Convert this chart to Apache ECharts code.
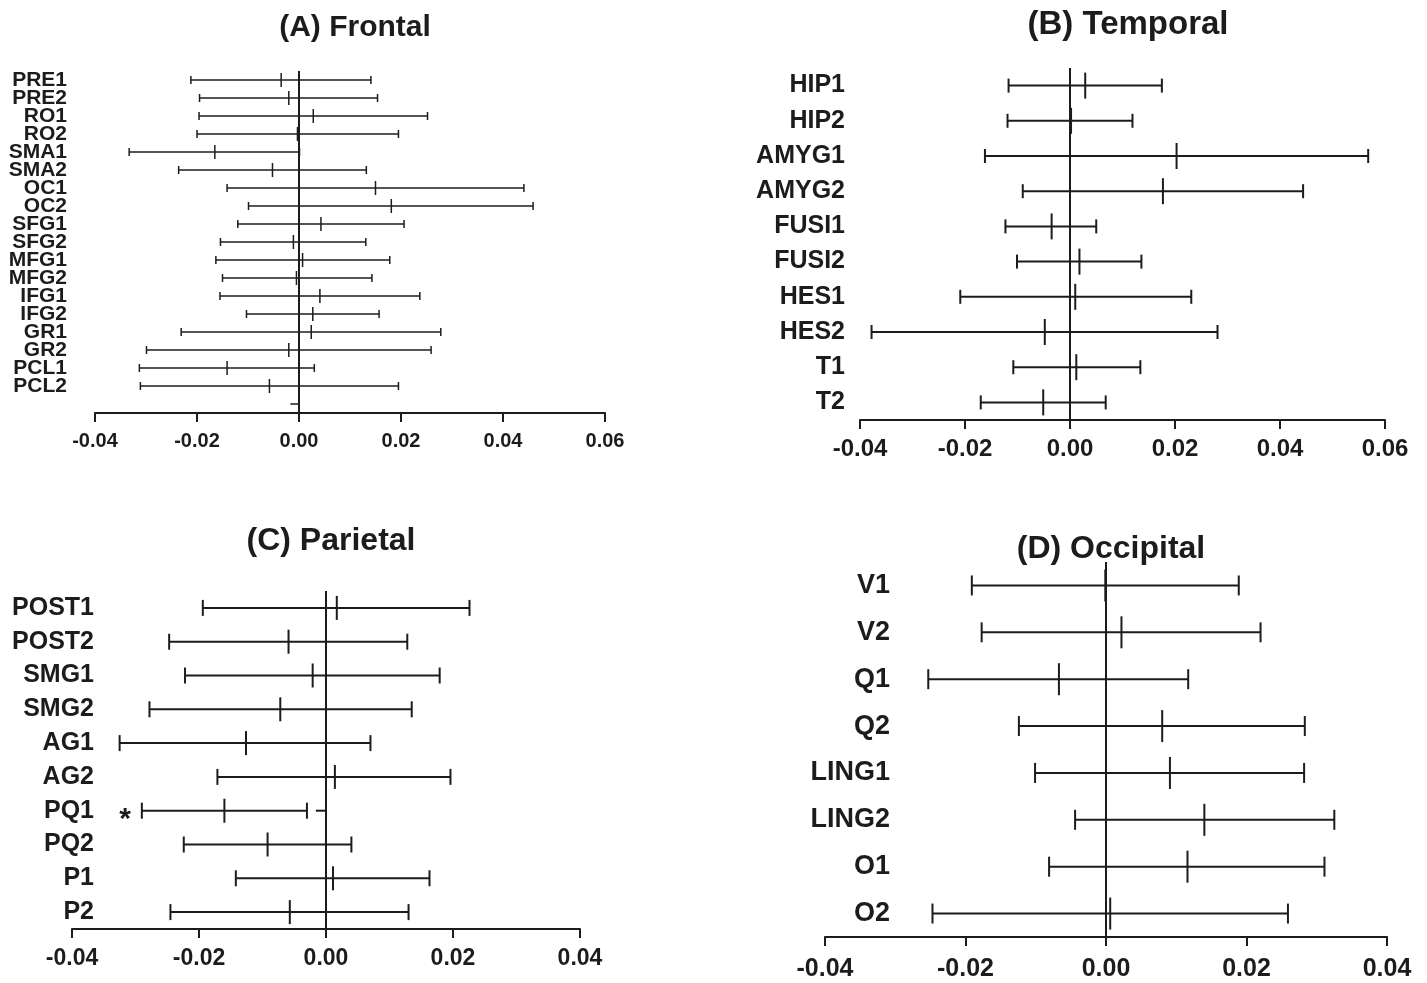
<!DOCTYPE html>
<html>
<head>
<meta charset="utf-8">
<script src="https://cdn.jsdelivr.net/npm/echarts@6/dist/echarts.min.js"></script>
<style>
html,body{margin:0;padding:0;background:#fff;}
#chart{width:1427px;height:983px;}
</style>
</head>
<body>
<div id="chart"></div>
<script>
// ---------- DATA ----------
const A_categories = ['PRE1','PRE2','RO1','RO2','SMA1','SMA2','OC1','OC2','SFG1','SFG2','MFG1','MFG2','IFG1','IFG2','GR1','GR2','PCL1','PCL2',''];
const A_lower = [-0.0212,-0.0195,-0.0196,-0.0200,-0.0333,-0.0236,-0.0141,-0.0099,-0.0120,-0.0154,-0.0163,-0.0150,-0.0155,-0.0103,-0.0231,-0.0299,-0.0313,-0.0311];
const A_mean  = [-0.0035,-0.0020, 0.0028,-0.0003,-0.0165,-0.0052, 0.0150, 0.0181, 0.0043,-0.0011, 0.0007,-0.0005, 0.0041, 0.0027, 0.0024,-0.0020,-0.0141,-0.0058];
const A_upper = [ 0.0141, 0.0154, 0.0252, 0.0195, 0.0001, 0.0132, 0.0441, 0.0459, 0.0206, 0.0131, 0.0178, 0.0143, 0.0237, 0.0157, 0.0278, 0.0259, 0.0030, 0.0195];
const A_fragments = [[-0.0017, 0, 18]];

const B_categories = ['HIP1','HIP2','AMYG1','AMYG2','FUSI1','FUSI2','HES1','HES2','T1','T2'];
const B_lower = [-0.0117,-0.0119,-0.0162,-0.0090,-0.0123,-0.0101,-0.0209,-0.0378,-0.0108,-0.0170];
const B_mean  = [ 0.0029, 0.0002, 0.0203, 0.0177,-0.0035, 0.0018, 0.0010,-0.0048, 0.0012,-0.0051];
const B_upper = [ 0.0175, 0.0119, 0.0568, 0.0444, 0.0050, 0.0136, 0.0231, 0.0281, 0.0134, 0.0068];

const C_categories = ['POST1','POST2','SMG1','SMG2','AG1','AG2','PQ1','PQ2','P1','P2'];
const C_lower = [-0.0194,-0.0247,-0.0222,-0.0278,-0.0325,-0.0171,-0.0290,-0.0224,-0.0142,-0.0245];
const C_mean  = [ 0.0017,-0.0059,-0.0021,-0.0072,-0.0126, 0.0014,-0.0160,-0.0092, 0.0011,-0.0057];
const C_upper = [ 0.0226, 0.0128, 0.0179, 0.0135, 0.0070, 0.0196,-0.0030, 0.0040, 0.0163, 0.0130];
const C_marks = ['','','','','','','*','','',''];
const C_fragments = [[-0.0016, 0, 6]];

const D_categories = ['V1','V2','Q1','Q2','LING1','LING2','O1','O2'];
const D_lower = [-0.0191,-0.0177,-0.0253,-0.0124,-0.0101,-0.0044,-0.0081,-0.0247];
const D_mean  = [-0.0001, 0.0022,-0.0067, 0.0080, 0.0091, 0.0140, 0.0116, 0.0006];
const D_upper = [ 0.0189, 0.0220, 0.0117, 0.0283, 0.0282, 0.0325, 0.0311, 0.0259];

const titles = ['(A) Frontal','(B) Temporal','(C) Parietal','(D) Occipital'];

// ---------- STYLE / LAYOUT ----------
const FONT = "'Liberation Sans', Arial, Helvetica, sans-serif";
const INK = '#1c1c1c';

const panels = [
  {cats:A_categories, lo:A_lower, mn:A_mean, hi:A_upper, frag:A_fragments, marks:null,
   grid:{left:95, top:71, width:510, height:342}, min:-0.04, max:0.06,
   labelSize:21, labelMargin:28, tickSize:20, tickMargin:18, capH:4, meanH:7, lw:1.5,
   title:{x:350, y:25, size:30}},
  {cats:B_categories, lo:B_lower, mn:B_mean, hi:B_upper, frag:[], marks:null,
   grid:{left:860, top:68, width:525, height:352}, min:-0.04, max:0.06,
   labelSize:25, labelMargin:15, tickSize:24, tickMargin:17, capH:7, meanH:13, lw:2,
   title:{x:1123, y:22, size:33}},
  {cats:C_categories, lo:C_lower, mn:C_mean, hi:C_upper, frag:C_fragments, marks:C_marks,
   grid:{left:72, top:591, width:508, height:338}, min:-0.04, max:0.04,
   labelSize:25, labelMargin:-22, tickSize:23, tickMargin:18, capH:8, meanH:12, lw:2,
   title:{x:326, y:538, size:32}},
  {cats:D_categories, lo:D_lower, mn:D_mean, hi:D_upper, frag:[], marks:null,
   grid:{left:825, top:562, width:562, height:375}, min:-0.04, max:0.04,
   labelSize:27, labelMargin:-65, tickSize:25, tickMargin:20, capH:10, meanH:16, lw:2,
   title:{x:1106, y:546, size:32}}
];

function errRender(p) {
  return function (params, api) {
    const lo = api.value(0), mn = api.value(1), hi = api.value(2), row = api.value(3);
    const a = api.coord([lo, row]), m = api.coord([mn, row]), b = api.coord([hi, row]);
    const st = {stroke: INK, lineWidth: p.lw};
    const children = [
      {type:'line', shape:{x1:a[0], y1:a[1], x2:b[0], y2:b[1]}, style:st},
      {type:'line', shape:{x1:a[0], y1:a[1]-p.capH, x2:a[0], y2:a[1]+p.capH}, style:st},
      {type:'line', shape:{x1:b[0], y1:b[1]-p.capH, x2:b[0], y2:b[1]+p.capH}, style:st},
      {type:'line', shape:{x1:m[0], y1:m[1]-p.meanH, x2:m[0], y2:m[1]+p.meanH}, style:st}
    ];
    if (p.marks && p.marks[row]) {
      children.push({type:'text', x:a[0]-11, y:a[1]+9,
        style:{text:p.marks[row], font:'bold 30px ' + FONT, fill:INK, textAlign:'right', textVerticalAlign:'middle'}});
    }
    return {type:'group', children};
  };
}
function fragRender(p) {
  return function (params, api) {
    const a = api.coord([api.value(0), api.value(2)]), b = api.coord([api.value(1), api.value(2)]);
    return {type:'line', shape:{x1:a[0], y1:a[1], x2:b[0], y2:b[1]}, style:{stroke:INK, lineWidth:p.lw}};
  };
}
function zeroRender(p) {
  return function (params, api) {
    const cs = params.coordSys;
    const x = api.coord([0, 0])[0];
    return {type:'line', shape:{x1:x, y1:cs.y, x2:x, y2:cs.y + cs.height}, style:{stroke:INK, lineWidth:2}};
  };
}

const option = {
  backgroundColor:'#fff',
  animation:false,
  title: panels.map((p, i) => ({
    text: titles[i], left: p.title.x, top: p.title.y - p.title.size/2 - 2, textAlign:'center',
    textStyle:{fontFamily:FONT, fontWeight:'bold', fontSize:p.title.size, color:INK}
  })),
  grid: panels.map(p => Object.assign({containLabel:false}, p.grid)),
  xAxis: panels.map((p, i) => ({
    type:'value', gridIndex:i, min:p.min, max:p.max, interval:0.02,
    axisLine:{show:true, onZero:false, lineStyle:{color:INK, width:2}},
    axisTick:{show:true, length:9, lineStyle:{color:INK, width:2}},
    splitLine:{show:false},
    axisLabel:{fontFamily:FONT, fontWeight:'bold', fontSize:p.tickSize, color:INK, margin:p.tickMargin,
      formatter:v => v.toFixed(2)}
  })),
  yAxis: panels.map((p, i) => ({
    type:'category', gridIndex:i, data:p.cats, inverse:true, boundaryGap:true,
    axisLine:{show:false}, axisTick:{show:false}, splitLine:{show:false},
    axisLabel:{fontFamily:FONT, fontWeight:'bold', fontSize:p.labelSize, color:INK, margin:p.labelMargin, interval:0}
  })),
  series: []
};

panels.forEach((p, i) => {
  option.series.push({
    type:'custom', xAxisIndex:i, yAxisIndex:i, renderItem:zeroRender(p),
    data:[[0, 0]], encode:{x:0, y:1}, silent:true
  });
  option.series.push({
    type:'custom', xAxisIndex:i, yAxisIndex:i, renderItem:errRender(p),
    data:p.lo.map((v, k) => [v, p.mn[k], p.hi[k], k]),
    encode:{x:[0,1,2], y:3}, silent:true
  });
  if (p.frag.length) {
    option.series.push({
      type:'custom', xAxisIndex:i, yAxisIndex:i, renderItem:fragRender(p),
      data:p.frag, encode:{x:[0,1], y:2}, silent:true
    });
  }
});

const chart = echarts.init(document.getElementById('chart'), null, {renderer:'canvas'});
chart.setOption(option);
</script>
</body>
</html>
